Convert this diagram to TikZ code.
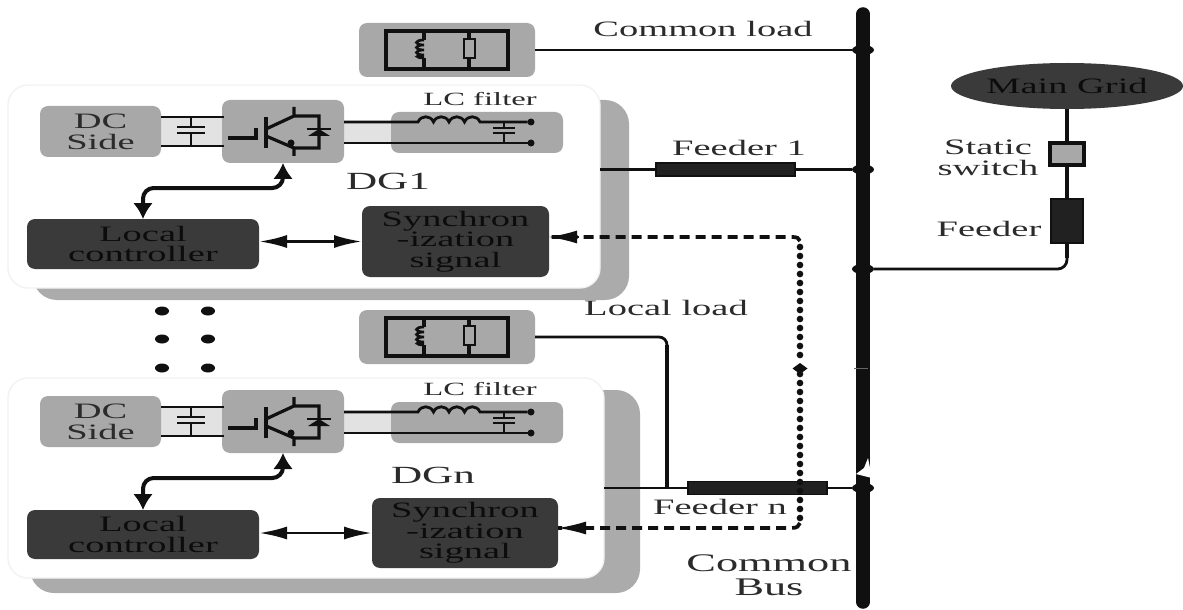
\documentclass[tikz,border=0pt]{standalone}
\usepackage{fontspec}
\setmainfont[FakeStretch=1.75]{Liberation Serif}
\usetikzlibrary{arrows.meta,shapes.geometric,calc}
\def\u{0.75pt}
\definecolor{midgray}{HTML}{A8A8A8}
\definecolor{shadowgray}{HTML}{ABABAB}
\definecolor{bandgray}{HTML}{E2E2E2}
\definecolor{darkbox}{HTML}{3A3A3A}
\definecolor{ink}{HTML}{101010}
\definecolor{txt}{HTML}{2B2B2B}
\definecolor{dtxt}{HTML}{0C0C0C}
\tikzset{
  every node/.style={inner sep=0pt,outer sep=0pt,align=center},
  lbl/.style={text=txt,font=\fontsize{16.5pt}{15.5pt}\selectfont},
  smalllbl/.style={text=txt,font=\fontsize{14pt}{15pt}\selectfont},
  dglbl/.style={text=txt,font=\fontsize{18.5pt}{20pt}\selectfont},
  buslbl/.style={text=txt,font=\fontsize{19pt}{18pt}\selectfont},
  graybox/.style={fill=midgray,rounded corners=6pt,font=\fontsize{16.5pt}{15.7pt}\selectfont,text=txt},
  darkrect/.style={fill=darkbox,rounded corners=6pt,text=dtxt,font=\fontsize{16.5pt}{15.5pt}\selectfont},
  dgbox/.style={fill=white,draw=black!5,line width=1pt,rounded corners=15pt},
  shadowbox/.style={fill=shadowgray,rounded corners=18pt},
  feederbar/.style={fill=ink!85!gray,draw=ink,line width=1pt},
  wire/.style={draw=ink,line width=2.1pt},
  heavywire/.style={draw=ink,line width=3.2pt},
  rlbox/.style={draw=ink,line width=2.6pt},
  dblarrow/.style={draw=ink,line width=3pt,rounded corners=8pt,{Latex[length=16*\u,width=20*\u]}-{Latex[length=16*\u,width=20*\u]}},
  hdblarrow/.style={draw=ink,line width=2pt,{Latex[length=28*\u,width=13*\u]}-{Latex[length=28*\u,width=13*\u]}},
  dashline/.style={draw=ink,line width=2.8pt,dash pattern=on 10*\u off 6*\u},
  dotline/.style={draw=ink,line width=5pt,line cap=round,dash pattern=on 0pt off 9*\u},
  jdot/.style={ellipse,fill=ink,minimum width=22*\u,minimum height=10*\u},
  termdot/.style={circle,fill=ink,minimum size=7*\u},
  vdot/.style={ellipse,fill=ink,minimum width=14*\u,minimum height=9*\u},
  busline/.style={draw=ink,line width=13.5*\u,line cap=round},
}
\newcommand\rlload[2]{%
\begin{scope}[shift={(0,#2)},name prefix=#1-]
  \node[graybox,minimum width=176*\u,minimum height=54*\u] (box) at (447,50) {};
  \draw[rlbox] (386,31) rectangle (508,69);
  \draw[rlbox,line width=2.3pt] (424,31) -- (424,40) (424,58) -- (424,69);
  \draw[rlbox,line width=2pt] (424,40) .. controls (414,40) and (414,45) .. (424,45)
     .. controls (414,45) and (414,50) .. (424,50)
     .. controls (414,50) and (414,55) .. (424,55)
     .. controls (414,55) and (416,58) .. (424,58);
  \draw[rlbox,line width=2.3pt] (469,31) -- (469,39) (469,58) -- (469,69);
  \draw[rlbox,line width=2.2pt,fill=midgray] (464,39) rectangle (475,58);
\end{scope}}
\newcommand\invblock[2]{%
\begin{scope}[shift={(0,#2)},name prefix=#1-]
  \fill[bandgray] (161,118) rectangle (222,146);
  \fill[bandgray] (344,122) rectangle (391,143);
  \node[graybox,minimum width=121*\u,minimum height=51*\u] (dc) at (100.5,131.5) {DC\\Side};
  \node[graybox,minimum width=122*\u,minimum height=63*\u] (inv) at (283,131.5) {};
  \node[graybox,minimum width=172*\u,minimum height=41*\u] (lc) at (477,132.5) {};
  \node[smalllbl] (lctext) at (480,99) {LC filter};
  \coordinate (dca) at (161,117); \coordinate (dcb) at (161,146);
  \coordinate (inva) at (224,117); \coordinate (invb) at (224,146);
  \draw[wire] (dca) -- (inva) (dcb) -- (invb);
  \draw[wire] (191,117) -- (191,127) (191,133) -- (191,146);
  \draw[wire] (177,127) -- (205,127) (177,133) -- (205,133);
  \draw[wire,line width=2.4pt] (228,138) -- (256,138) -- (256,128);
  \draw[wire,line width=3pt] (266,117) -- (266,148);
  \draw[wire,line width=2.4pt] (266,129) -- (294,116) (294,107) -- (294,116) -- (319,116) -- (319,148) -- (294,148);
  \draw[wire,line width=2.4pt] (266,136) -- (294,148) (294,148) -- (294,156);
  \fill[ink] (291,143) circle (3.5*\u);
  \fill[ink] (308,136) -- (330,136) -- (319,129) -- cycle;
  \draw[wire] (307,129) -- (331,129);
  \node[termdot] (ta) at (531,122) {};
  \node[termdot] (tb) at (531,143) {};
  \draw[wire] (inv.east |- ta) -- (418,122)
     .. controls +(3,-7) and +(-3,-7) .. ++(15.5,0)
     .. controls +(3,-7) and +(-3,-7) .. ++(15.5,0)
     .. controls +(3,-7) and +(-3,-7) .. ++(15.5,0)
     .. controls +(3,-7) and +(-3,-7) .. ++(15.5,0)
     -- (ta);
  \draw[wire] (inv.east |- tb) -- (tb);
  \draw[wire] (504,122) -- (504,128) (504,133) -- (504,143);
  \draw[wire] (493,128) -- (515,128) (493,133) -- (515,133);
\end{scope}}
\begin{document}
\begin{tikzpicture}[x=\u,y=-\u]
\useasboundingbox (0,0) rectangle (1183,610);
\fill[white] (0,0) rectangle (1183,610);
\node[shadowbox,minimum width=596*\u,minimum height=200*\u] (dgoneshadow) at (331,200) {};
\node[dgbox,minimum width=592*\u,minimum height=203*\u] (dgonebox) at (304,186.5) {};
\node[shadowbox,minimum width=610*\u,minimum height=203*\u] (dgnshadow) at (335,491.5) {};
\node[dgbox,minimum width=596*\u,minimum height=200*\u] (dgnbox) at (306,478) {};
\rlload{cl}{0}
\rlload{ll}{287}
\invblock{a}{0}
\invblock{b}{290}
\node[darkrect,minimum width=232*\u,minimum height=50*\u] (ctrla) at (143,244) {Local\\controller};
\node[darkrect,minimum width=187*\u,minimum height=71*\u] (synca) at (455.5,241.5) {Synchron\\-ization\\signal};
\node[darkrect,minimum width=232*\u,minimum height=49*\u] (ctrlb) at (143,534.5) {Local\\controller};
\node[darkrect,minimum width=186*\u,minimum height=70*\u] (syncb) at (465,533) {Synchron\\-ization\\signal};
\node[dglbl] (dgonelbl) at (388,181) {DG1};
\node[dglbl] (dgnlbl) at (433,475) {DGn};
\draw[dblarrow] (ctrla.north) -- ++(0,-31) -| (a-inv.south);
\draw[dblarrow] (ctrlb.north) -- ++(0,-32) -| (b-inv.south);
\draw[hdblarrow] (ctrla.east |- synca.west) -- (synca.west);
\draw[hdblarrow] (ctrlb.east |- syncb.west) -- (syncb.west);
\coordinate (bustop) at (863,14);
\coordinate (busbot) at (863,602);
\draw[busline] (bustop) -- (busbot);
\fill[white] (868,458) -- (872,478) -- (856,474) -- (864,468) -- cycle;
\draw[black!60,line width=1pt] (854,368.5) -- (868,368.5);
\node[jdot] (jcl) at (863,50) {};
\node[jdot] (jfa) at (863,169.5) {};
\node[jdot] (jgrid) at (863,269) {};
\node[jdot] (jfb) at (863,488) {};
\node[buslbl] (buslabel) at (769,575) {Common\\Bus};
\draw[wire] (cl-box.east) -- (jcl);
\node[feederbar,minimum width=139*\u,minimum height=13*\u] (fa) at (725.5,169.5) {};
\draw[wire] (dgonebox.east |- fa.west) -- (fa.west) (fa.east) -- (jfa);
\node[feederbar,minimum width=139*\u,minimum height=13*\u] (fb) at (757.5,488) {};
\draw[wire] (dgnbox.east |- fb.west) -- (fb.west) (fb.east) -- (jfb);
\coordinate (lltap) at (667,488);
\draw[wire,rounded corners=6pt] (ll-box.east) -- (lltap |- ll-box.east) -- (lltap);
\draw[heavywire] (667,345) -- (lltap);
\node[lbl] (clbl) at (703,29) {Common load};
\node[lbl] (lllbl) at (666,308) {Local load};
\node[lbl] (falbl) at (739,148) {Feeder 1};
\node[lbl] (fblbl) at (720,507) {Feeder n};
\node[diamond,fill=ink,minimum width=15*\u,minimum height=11*\u] (sj) at (800,368.5) {};
\coordinate (cnra) at (800,237);
\coordinate (cnrb) at (800,528);
\draw[dotline] (800,247) -- (sj) -- (800,520);
\draw[dashline] (800,241) .. controls (799,238) and (797,237) .. (792,237) -- (synca.east |- cnra);
\draw[dashline] (800,523) .. controls (799,526) and (797,528) .. (792,528) -- (syncb.east |- cnrb);
\draw[ink,line width=1pt,{Latex[length=28*\u,width=13*\u]}-] (synca.east |- cnra) -- ++(30,0);
\draw[ink,line width=1pt,{Latex[length=28*\u,width=13*\u]}-] (syncb.east |- cnrb) -- ++(30,0);
\node[ellipse,fill=darkbox,minimum width=232*\u,minimum height=46*\u,text=dtxt,font=\fontsize{16.5pt}{16pt}\selectfont] (grid) at (1067,86) {Main Grid};
\node[fill=midgray,draw=ink,line width=2.6pt,minimum width=34*\u,minimum height=22*\u] (sw) at (1067,154) {};
\node[feederbar,minimum width=32*\u,minimum height=44*\u] (gf) at (1067,221) {};
\node[lbl] (swlbl) at (988,157.5) {Static\\switch};
\node[lbl] (gflbl) at (989,229) {Feeder};
\draw[heavywire] (grid.south) -- (sw.north) (sw.south) -- (gf.north);
\draw[heavywire] (gf.south) -- (1067,258);
\draw[wire,rounded corners=7pt] (gf.south) -- (gf.south |- jgrid) -- (jgrid);
\node[vdot] (da) at (162,311) {}; \node[vdot] (db) at (208,311) {};
\node[vdot] (dc) at (162,339) {}; \node[vdot] (dd) at (208,339) {};
\node[vdot] (de) at (162,368) {}; \node[vdot] (df) at (208,368) {};
\end{tikzpicture}
\end{document}
